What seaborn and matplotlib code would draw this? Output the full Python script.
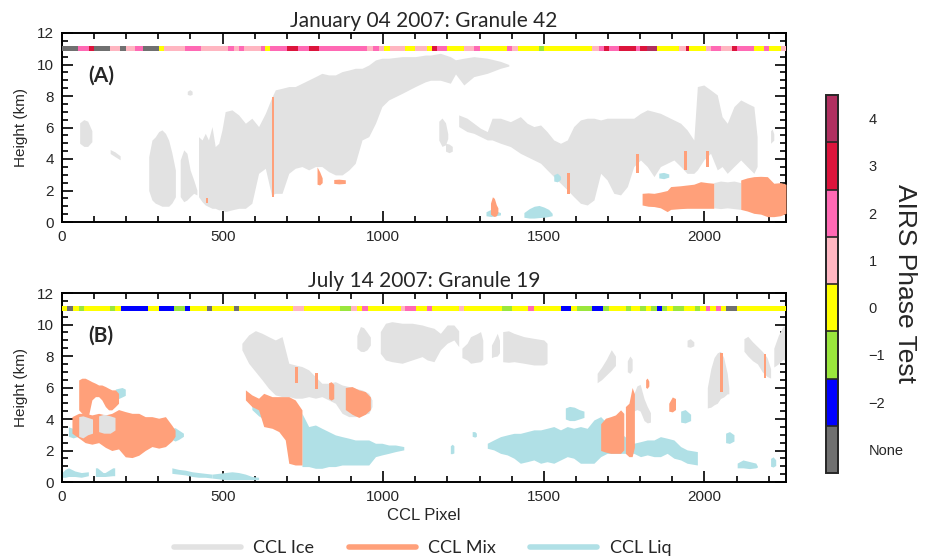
import numpy as np
import matplotlib
matplotlib.use("Agg")
import matplotlib.pyplot as plt
import seaborn as sns
from matplotlib.colors import ListedColormap, BoundaryNorm
from matplotlib.cm import ScalarMappable
from matplotlib.lines import Line2D
from matplotlib.ticker import MultipleLocator

# ---------------- data ----------------
X_MAX = 2254
phase_levels = [-3, -2, -1, 0, 1, 2, 3, 4]            # -3 == "None"
phase_labels = ["None", "\u22122", "\u22121", "0", "1", "2", "3", "4"]
phase_colors = ["#707070", "#0000FF", "#9AE63C", "#FFFF00",
                "#FFB6C1", "#FF69B4", "#DC143C", "#B03060"]

a_starts = [0, 49, 83, 101, 148, 182, 200, 228, 252, 301, 317, 384, 433, 517, 535, 550, 568, 618, 633, 649,
            701, 735, 768, 799, 950, 969, 986, 1002, 1021, 1069, 1100, 1137, 1152, 1168, 1199, 1251, 1282, 1301,
            1386, 1402, 1419, 1485, 1502, 1651, 1672, 1687, 1703, 1734, 1786, 1801, 1822, 1853, 1921, 1942, 1952,
            2004, 2020, 2053, 2087, 2103, 2154, 2186, 2201, 2238]
a_codes = [-3, 2, 3, -3, 1, -3, 1, 2, -3, 0, 1, 2, 1, 2, 1, 2, 1, 2, 0, 2,
           3, 2, 3, 2, 1, 2, 1, 0, 1, 0, 1, 0, 3, 2, 0, 1, 2, 0,
           2, 1, 0, -1, 0, 1, 2, 3, 2, 3, 2, 3, 4, 0, 1, 3, 0,
           1, 2, 1, 3, 2, 0, 2, 0, 1]

b_starts = [0, 16, 34, 52, 67, 150, 166, 184, 268, 301, 350, 384, 400, 450, 468, 534, 551, 720, 753, 867,
            900, 919, 935, 952, 1054, 1069, 1103, 1135, 1153, 1236, 1251, 1371, 1402, 1450, 1469, 1552, 1586,
            1602, 1651, 1684, 1703, 1755, 1770, 1801, 1819, 1835, 1851, 1869, 1885, 1902, 1936, 1970, 1986,
            2004, 2017, 2035, 2051, 2068, 2103]
b_codes = [0, -3, 0, -1, 0, -1, 0, -2, 0, -2, -1, -2, 0, -3, 0, -3, 0, 1, 0, -1,
           1, 0, 2, 0, 1, 2, 0, 2, 0, 1, 0, -1, 0, 2, 0, -2, 0,
           -1, -2, -1, 0, -1, 0, -1, 0, -1, -2, -1, 0, -1, 0, -1, 0,
           2, 0, 2, 0, -3, 0]

# cloud regions: (pixel positions, top km, base km)
a_ice = [
    ([55, 68, 80, 93], [6.3, 6.5, 6.4, 5.8], [5.0, 4.8, 4.8, 5.1]),
    ([150, 165, 181], [4.6, 4.45, 4.2], [4.35, 4.15, 3.95]),
    ([390, 398, 405], [8.3, 8.4, 8.3], [8.1, 8.05, 8.1]),
    ([270, 280, 290, 301, 311, 322, 332, 342, 353],
     [4.15, 5.2, 5.4, 5.74, 5.85, 5.63, 5.2, 4.4, 3.3],
     [2.0, 1.4, 1.2, 1.1, 1.0, 1.0, 1.0, 1.2, 1.6]),
    ([368, 379, 389, 399, 410, 420],
     [3.94, 4.58, 4.36, 3.3, 2.67, 2.03],
     [1.61, 1.29, 1.4, 1.61, 1.82, 1.72]),
    ([425, 436, 446, 456, 467, 477, 488, 498, 508, 529, 550, 571, 591, 612, 633, 652, 664, 685, 706, 726,
      747, 768, 789, 809, 830, 851, 872, 893, 913, 934, 955, 976, 996, 1017, 1059, 1100, 1131, 1147, 1178,
      1209, 1225, 1251, 1282, 1324, 1365, 1391],
     [5.42, 5.21, 5.63, 5.21, 6.06, 4.79, 5.0, 5.85, 7.01, 7.12, 6.8, 6.27, 6.59, 6.06, 6.9, 7.86, 8.39, 8.49,
      8.6, 8.6, 8.81, 9.02, 9.23, 9.44, 9.34, 9.34, 9.55, 9.65, 9.76, 9.76, 9.97, 10.29, 10.4, 10.4, 10.5,
      10.5, 10.6, 10.6, 10.71, 10.5, 10.3, 10.4, 10.5, 10.4, 10.2, 10.0],
     [1.61, 1.29, 1.08, 0.98, 0.87, 0.87, 0.77, 0.77, 0.66, 0.77, 0.87, 0.87, 1.19, 3.09, 3.41, 1.72, 1.82,
      1.82, 3.09, 3.41, 3.52, 3.31, 3.52, 3.52, 3.2, 2.99, 2.99, 3.3, 3.73, 5.21, 5.42, 6.27, 7.33, 7.75,
      8.17, 8.6, 8.9, 9.0, 9.0, 8.81, 9.4, 8.7, 9.23, 9.44, 9.76, 9.9]),
    ([1173, 1183, 1194, 1201], [6.4, 6.6, 6.3, 5.6], [5.2, 4.8, 4.9, 5.3]),
    ([1194, 1205, 1215], [5.0, 4.95, 4.8], [4.5, 4.4, 4.5]),
    ([1235, 1261, 1282, 1303, 1324, 1339, 1365, 1396, 1427, 1448, 1469, 1490, 1510, 1531, 1552, 1573, 1593,
      1614, 1635, 1656, 1677, 1697, 1718, 1739, 1760, 1780, 1801, 1822, 1843, 1863, 1884, 1905, 1926, 1946,
      1967, 1978, 1998, 2019, 2040, 2055, 2071, 2092, 2113, 2133, 2154, 2164],
     [6.8, 6.59, 6.27, 5.95, 5.74, 6.59, 6.59, 6.37, 6.69, 6.27, 6.06, 6.16, 5.74, 5.21, 5.0, 5.21, 6.06,
      6.48, 6.59, 6.59, 6.48, 6.59, 6.59, 6.59, 6.59, 6.59, 6.9, 7.12, 7.01, 6.9, 6.69, 6.48, 6.27, 5.85,
      5.21, 8.6, 8.7, 8.39, 8.07, 6.69, 6.27, 7.33, 7.75, 7.54, 7.33, 5.42],
     [6.06, 5.74, 5.63, 5.42, 5.21, 5.21, 5.0, 4.79, 4.36, 4.15, 3.94, 3.73, 3.31, 2.88, 2.46, 2.04, 1.61,
      1.19, 1.08, 1.4, 3.09, 2.67, 1.82, 1.72, 2.25, 3.52, 3.94, 3.52, 2.88, 3.52, 3.73, 3.94, 3.52, 3.09,
      3.09, 3.31, 3.94, 4.36, 3.31, 3.52, 3.09, 3.52, 3.94, 3.52, 3.09, 3.52]),
    ([2206, 2211, 2216], [5.8, 5.9, 5.6], [5.0, 5.1, 5.2]),
    ([2029, 2050, 2071, 2092, 2113], [2.5, 2.6, 2.55, 2.6, 2.5], [0.9, 0.85, 0.9, 0.85, 0.8]),
]
a_liq = [
    ([1438, 1455, 1470, 1485, 1500, 1515, 1526], [0.6, 0.85, 1.0, 1.05, 0.95, 0.8, 0.55],
     [0.3, 0.25, 0.25, 0.28, 0.3, 0.35, 0.4]),
    ([1320, 1335, 1350, 1365], [0.65, 0.8, 0.7, 0.6], [0.4, 0.35, 0.4, 0.45]),
    ([1531, 1542, 1552], [3.0, 3.1, 2.9], [2.6, 2.55, 2.7]),
    ([1858, 1873, 1889], [3.1, 3.15, 3.05], [2.8, 2.75, 2.85]),
]
a_mix = [
    ([653, 661], [7.96, 7.96], [1.6, 1.6]),
    ([794, 802, 810], [3.5, 3.2, 2.8], [2.4, 2.35, 2.5]),
    ([846, 862, 882], [2.7, 2.72, 2.68], [2.45, 2.42, 2.45]),
    ([448, 456], [1.5, 1.5], [1.2, 1.2]),
    ([1334, 1340, 1346, 1352, 1357], [1.2, 1.6, 1.5, 1.1, 0.9], [0.5, 0.4, 0.35, 0.4, 0.6]),
    ([1571, 1580], [3.1, 3.1], [1.8, 1.8]),
    ([1787, 1796], [4.3, 4.3], [3.1, 3.1]),
    ([1937, 1946], [4.5, 4.5], [3.3, 3.3]),
    ([2005, 2014], [4.5, 4.5], [3.5, 3.5]),
    ([1806, 1825, 1843, 1863, 1884, 1895, 1925, 1946, 1967, 1988, 2009, 2029],
     [1.82, 1.85, 1.82, 1.9, 2.0, 2.25, 2.3, 2.35, 2.4, 2.56, 2.5, 2.46],
     [1.08, 1.0, 0.98, 0.9, 0.66, 0.8, 0.85, 0.87, 0.87, 0.87, 0.87, 0.87]),
    ([2113, 2133, 2154, 2175, 2196, 2216, 2237, 2254],
     [2.67, 2.8, 2.88, 2.9, 2.88, 2.46, 2.5, 2.4],
     [0.8, 0.7, 0.55, 0.5, 0.34, 0.34, 0.4, 0.55]),
]

b_ice = [
    ([560, 581, 602, 623, 643, 664, 685, 706, 726, 747, 768, 789, 809, 830, 851, 872, 893, 913, 934, 955, 965],
     [8.81, 9.34, 9.61, 9.44, 9.23, 9.02, 9.23, 7.54, 7.43, 7.33, 7.12, 6.69, 6.27, 6.27, 6.37, 6.16, 6.06,
      5.95, 5.85, 5.63, 5.21],
     [8.39, 7.54, 7.01, 6.48, 5.95, 5.53, 5.42, 5.42, 5.32, 5.32, 5.42, 5.32, 5.42, 5.21, 5.0, 4.36, 4.15,
      4.15, 4.26, 4.36, 4.79]),
    ([918, 929, 939, 950, 960], [9.3, 9.87, 9.8, 9.5, 9.2], [8.5, 8.3, 8.28, 8.4, 8.7]),
    ([991, 1007, 1027, 1059, 1090, 1121, 1137, 1158, 1178, 1199, 1220, 1235],
     [9.55, 10.08, 10.18, 10.08, 10.08, 9.97, 9.87, 9.76, 9.44, 9.97, 9.97, 9.6],
     [8.17, 7.75, 7.64, 7.54, 7.75, 7.96, 7.75, 7.64, 8.39, 8.81, 9.02, 8.6]),
    ([1245, 1261, 1272, 1290, 1303, 1310], [8.5, 8.81, 9.23, 9.4, 9.55, 9.0], [7.9, 7.75, 7.54, 7.6, 7.64, 7.8]),
    ([1337, 1345, 1355, 1362], [8.7, 9.0, 9.44, 9.0], [7.9, 7.96, 8.0, 8.2]),
    ([1372, 1390, 1407, 1438, 1469, 1500, 1510], [9.55, 9.6, 9.44, 9.23, 9.12, 9.02, 8.81],
     [7.64, 7.6, 7.64, 7.54, 7.43, 7.43, 7.54]),
    ([1666, 1680, 1695, 1710, 1723], [6.9, 7.3, 7.8, 8.4, 8.0], [6.3, 6.5, 6.8, 7.1, 7.4]),
    ([1760, 1768, 1775], [7.7, 8.0, 7.8], [7.0, 6.9, 7.1]),
    ([1780, 1790, 1800, 1812, 1822, 1832], [5.6, 6.1, 6.2, 5.3, 4.8, 4.4], [4.5, 4.6, 4.5, 3.9, 3.75, 3.8]),
    ([1946, 1956, 1967], [9.0, 9.1, 8.9], [8.6, 8.55, 8.65]),
    ([2009, 2020, 2030, 2040, 2050, 2060, 2071, 2076], [6.0, 7.2, 7.9, 8.2, 8.3, 7.9, 6.9, 6.0],
     [4.7, 4.75, 4.9, 5.0, 5.3, 5.4, 5.6, 5.6]),
    ([2123, 2135, 2150, 2165, 2180, 2195, 2206], [9.1, 9.25, 8.9, 8.6, 8.3, 7.9, 7.2],
     [8.3, 8.0, 7.7, 7.5, 7.0, 6.7, 6.6]),
    ([2216, 2230, 2245, 2254], [8.5, 9.3, 9.9, 9.9], [7.3, 7.5, 7.8, 7.6]),
]
b_liq = [
    ([342, 352, 363, 378], [3.4, 3.45, 3.3, 3.1], [2.7, 2.6, 2.7, 2.9]),
    ([166, 176, 187, 197], [5.9, 5.95, 6.0, 5.9], [5.4, 5.3, 5.4, 5.5]),
    ([20, 35, 50, 57], [3.5, 3.4, 3.3, 3.2], [2.9, 2.8, 2.9, 3.0]),
    ([0, 10, 20, 40, 60, 82], [0.6, 0.8, 0.9, 0.7, 0.6, 0.65], [0.3, 0.3, 0.35, 0.35, 0.3, 0.4]),
    ([104, 110, 128, 134, 158, 164], [0.9, 0.9, 0.6, 0.6, 0.9, 0.9], [0.35, 0.35, 0.35, 0.35, 0.4, 0.4]),
    ([342, 363, 384, 405, 425, 446, 467], [0.9, 0.8, 0.75, 0.65, 0.6, 0.55, 0.5],
     [0.55, 0.5, 0.45, 0.35, 0.3, 0.3, 0.25]),
    ([467, 488, 508, 529, 550, 571, 591, 612], [0.5, 0.55, 0.6, 0.65, 0.6, 0.5, 0.35, 0.3],
     [0.25, 0.2, 0.15, 0.15, 0.15, 0.15, 0.15, 0.15]),
    ([591, 612, 628, 643], [4.9, 4.6, 4.5, 4.3], [4.6, 4.2, 4.0, 3.7]),
    ([747, 768, 789, 809, 830, 851, 872, 893, 913, 934, 955, 976, 996, 1017, 1038, 1064],
     [4.36, 3.52, 3.62, 3.41, 3.2, 2.99, 2.88, 2.78, 2.67, 2.67, 2.67, 2.46, 2.46, 2.35, 2.35, 2.25],
     [0.98, 0.98, 0.87, 0.87, 0.98, 0.98, 1.08, 1.08, 1.08, 1.08, 1.08, 1.61, 1.72, 1.82, 1.93, 2.04]),
    ([1324, 1344, 1365, 1386, 1407, 1427, 1448, 1469, 1490, 1510, 1531, 1552, 1573, 1593, 1614, 1635, 1656,
      1677, 1697, 1739, 1780, 1801, 1822, 1843, 1863, 1884, 1905, 1926, 1946, 1978],
     [2.46, 2.67, 2.88, 2.99, 3.09, 3.09, 3.2, 3.31, 3.31, 3.41, 3.52, 3.31, 3.52, 3.41, 3.52, 3.41, 3.94,
      4.15, 3.73, 3.09, 2.46, 2.56, 2.67, 2.67, 2.88, 2.78, 2.67, 2.25, 2.04, 1.93],
     [2.14, 2.04, 1.82, 1.72, 1.51, 1.19, 1.29, 1.4, 1.19, 1.29, 1.19, 1.4, 1.61, 1.51, 1.19, 1.19, 1.19,
      1.61, 1.82, 1.82, 1.82, 1.61, 1.72, 1.61, 1.61, 1.82, 1.51, 1.4, 1.19, 1.08]),
    ([1567, 1580, 1595, 1610, 1625], [4.7, 4.8, 4.75, 4.6, 4.5], [4.0, 3.9, 3.9, 4.0, 4.1]),
    ([1926, 1940, 1957], [4.5, 4.6, 4.3], [3.8, 3.75, 3.9]),
    ([2066, 2078, 2092], [3.1, 3.2, 3.0], [2.5, 2.45, 2.6]),
    ([2102, 2120, 2140, 2160, 2165], [1.2, 1.4, 1.3, 1.2, 1.0], [0.9, 0.9, 0.85, 0.9, 0.95]),
    ([2206, 2214, 2222], [1.5, 1.6, 1.4], [1.0, 0.95, 1.05]),
    ([1277, 1285, 1290], [3.2, 3.2, 3.1], [2.9, 2.85, 2.9]),
    ([1209, 1215, 1220], [2.3, 2.4, 2.3], [1.8, 1.8, 1.85]),
]
b_mix = [
    ([52, 62, 72, 83, 93, 104, 114, 124, 135, 145, 155, 166, 176],
     [6.48, 6.59, 6.59, 6.48, 6.37, 6.27, 6.16, 6.16, 6.06, 5.95, 5.85, 5.85, 5.63],
     [4.58, 4.36, 4.15, 4.26, 5.21, 5.42, 5.42, 5.21, 4.79, 4.58, 4.58, 4.79, 5.0]),
    ([31, 52, 72, 93, 114, 135, 155, 176, 197, 218, 239, 259, 280, 301, 322, 342, 352],
     [4.15, 4.36, 4.36, 4.26, 4.36, 4.26, 4.36, 4.6, 4.47, 4.36, 4.36, 4.15, 4.15, 4.05, 4.15, 3.6, 3.3],
     [3.1, 2.8, 2.5, 2.4, 2.5, 2.2, 2.0, 2.1, 1.6, 1.55, 1.7, 2.0, 2.25, 2.15, 2.25, 2.6, 2.9]),
    ([571, 591, 612, 628, 654, 675, 695, 706, 726, 747],
     [5.85, 5.53, 5.32, 5.63, 5.42, 5.42, 5.42, 5.42, 5.21, 4.58],
     [5.21, 4.79, 4.58, 3.52, 3.41, 3.2, 2.67, 1.19, 1.08, 1.08]),
    ([882, 903, 924, 944, 960], [6.0, 6.06, 5.85, 5.74, 5.4], [4.6, 4.3, 4.1, 4.3, 4.6]),
    ([830, 838, 846], [6.3, 6.37, 6.2], [5.3, 5.2, 5.3]),
    ([725, 734], [7.3, 7.3], [6.3, 6.3]),
    ([788, 796], [6.9, 6.9], [5.9, 5.9]),
    ([1677, 1692, 1708, 1723, 1739, 1749], [3.7, 4.05, 4.15, 4.26, 4.58, 4.36], [2.0, 1.9, 1.82, 1.82, 1.82, 2.04]),
    ([1754, 1765, 1775, 1782], [4.79, 5.0, 6.0, 5.6], [1.82, 1.61, 1.61, 2.2]),
    ([1817, 1822, 1827], [6.5, 6.6, 6.4], [6.0, 5.95, 6.1]),
    ([1889, 1900, 1910], [5.0, 5.4, 5.3], [4.5, 4.45, 4.6]),
    ([2049, 2058], [8.2, 8.2], [5.7, 5.7]),
    ([2184, 2193], [8.1, 8.1], [6.6, 6.6]),
]
b_ice_over = [
    ([52, 65, 80, 95], [4.15, 4.2, 4.1, 4.0], [2.9, 2.8, 3.0, 3.1]),
    ([114, 130, 150, 165], [4.2, 4.3, 4.2, 4.1], [3.2, 3.1, 3.1, 3.3]),
]

titles = ["January 04 2007: Granule 42", "July 14 2007: Granule 19"]
panel_tags = ["(A)", "(B)"]
legend_names = ["CCL Ice", "CCL Mix", "CCL Liq"]

# ---------------- style ----------------
ICE_C, MIX_C, LIQ_C = "#E2E2E2", "#FFA07A", "#B0E0E6"
sns.set_theme(style="ticks")
plt.rcParams["font.family"] = ["Liberation Sans", "DejaVu Sans"]
TITLE_FONT = ["Lato", "DejaVu Sans"]

fig = plt.figure(figsize=(9.27, 5.56), dpi=100)
W, H = 927.0, 556.0
axA = fig.add_axes([62 / W, 1 - 222 / H, 724 / W, 189 / H])
axB = fig.add_axes([62 / W, 1 - 482 / H, 724 / W, 189 / H])
color_of = dict(zip(phase_levels, phase_colors))


def draw_blobs(ax, blobs, color, z):
    for xs, tops, bases in blobs:
        ax.fill_between(xs, bases, tops, color=color, lw=0, zorder=z)


def draw_strip(ax, starts, codes):
    ends = starts[1:] + [X_MAX]
    for s, e, c in zip(starts, ends, codes):
        ax.broken_barh([(s, e - s)], (10.88, 0.32), facecolors=color_of[c], lw=0, zorder=5)


panels = [
    (axA, a_ice, a_liq, a_mix, [], a_starts, a_codes),
    (axB, b_ice, b_liq, b_mix, b_ice_over, b_starts, b_codes),
]
for i, (ax, ice, liq, mix, ice_over, st, cd) in enumerate(panels):
    draw_blobs(ax, ice, ICE_C, 1)
    draw_blobs(ax, liq, LIQ_C, 2)
    draw_blobs(ax, mix, MIX_C, 3)
    draw_blobs(ax, ice_over, ICE_C, 4)
    draw_strip(ax, st, cd)
    ax.set_xlim(0, X_MAX)
    ax.set_ylim(0, 12)
    ax.set_xticks([0, 500, 1000, 1500, 2000])
    ax.set_yticks([0, 2, 4, 6, 8, 10, 12])
    ax.xaxis.set_minor_locator(MultipleLocator(100))
    ax.yaxis.set_minor_locator(MultipleLocator(0.5))
    ax.tick_params(which="both", direction="in", top=True, right=True, color="black", width=1.2)
    ax.tick_params(which="major", length=8, labelsize=11, pad=6)
    ax.tick_params(which="minor", length=4.5)
    for sp in ax.spines.values():
        sp.set_visible(True)
        sp.set_color("black")
        sp.set_linewidth(1.4)
    ax.set_facecolor("white")
    ax.set_ylabel("Height (km)", fontsize=11, labelpad=6)
    ax.set_title(titles[i], fontsize=15, family=TITLE_FONT, pad=4)
    ax.text(0.036, 0.775, panel_tags[i], transform=ax.transAxes, fontsize=15,
            fontweight="bold", family=TITLE_FONT, ha="left", va="center", zorder=6)

axB.set_xlabel("CCL Pixel", fontsize=12, labelpad=3)

# colour bar
cax = fig.add_axes([826 / W, 1 - 473 / H, 12 / W, 378 / H])
cmap = ListedColormap(phase_colors)
norm = BoundaryNorm(np.arange(-3.5, 5.0, 1.0), cmap.N)
cb = fig.colorbar(ScalarMappable(norm=norm, cmap=cmap), cax=cax, drawedges=True,
                  ticks=phase_levels)
cb.ax.minorticks_off()
cb.ax.set_yticklabels(phase_labels)
cb.ax.tick_params(which="both", length=0, labelsize=10.5, pad=22)
cb.outline.set_linewidth(1.4)
cb.dividers.set_linewidth(1.2)
fig.text(905 / W, 1 - 284 / H, "AIRS Phase Test", rotation=270, fontsize=19,
         ha="center", va="center")

# legend
handles = [Line2D([0], [0], color=c, lw=4) for c in (ICE_C, MIX_C, LIQ_C)]
fig.legend(handles, legend_names, loc="lower center", bbox_to_anchor=(0.456, -0.03), ncol=3,
           frameon=False, prop={"family": TITLE_FONT, "size": 13}, handlelength=3.7,
           handletextpad=0.7, columnspacing=1.9)

fig.savefig("out.png", dpi=100, facecolor="white")
